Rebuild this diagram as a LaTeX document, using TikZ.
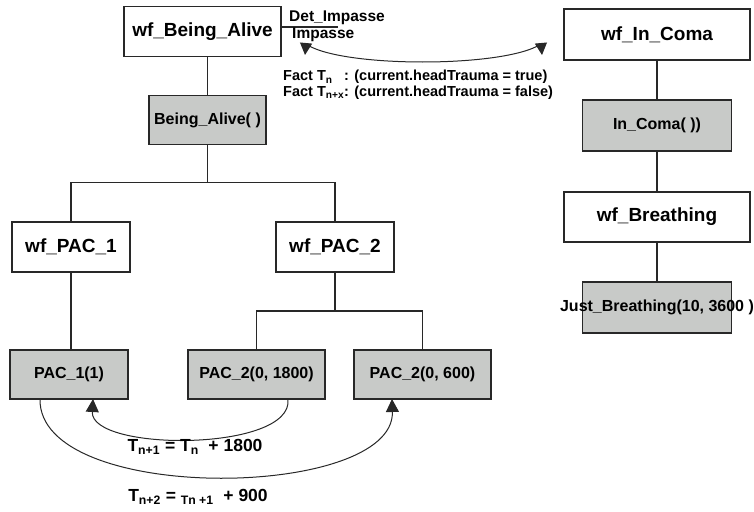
\documentclass[tikz,border=0pt]{standalone}
\usepackage{fontspec}
\setmainfont{Liberation Sans}
\usepackage{xcolor}
\usepackage{tikz}
\usetikzlibrary{arrows.meta,positioning,calc}
\definecolor{callgray}{RGB}{200,202,200}
\definecolor{edgegray}{RGB}{40,40,40}

\begin{document}
\begin{tikzpicture}[x=1pt, y=-1pt,
  wfbox/.style={draw=edgegray, line width=1.2pt, fill=white, inner sep=0pt, outer sep=0pt,
               minimum height=50pt, align=center, font=\fontsize{19}{22}\selectfont\bfseries},
  callbox/.style={draw=edgegray, line width=1.2pt, fill=callgray, inner sep=0pt, outer sep=0pt,
               minimum height=49pt, align=center, font=\fontsize{16}{19}\selectfont\bfseries},
  link/.style={draw=edgegray, line width=1.2pt},
  lbl/.style={inner sep=0pt, font=\fontsize{15.5}{18}\selectfont\bfseries},
  eqlbl/.style={inner sep=0pt, font=\fontsize{17.5}{20}\selectfont\bfseries},
  both/.style={edgegray, line width=1pt, {Triangle[length=12pt,width=12pt]}-{Triangle[length=12pt,width=12pt]}},
  arrow/.style={edgegray, line width=1pt, -{Triangle[length=13pt,width=13pt]}}
]
\useasboundingbox (0,0) rectangle (754,511);

% left tree
\node[wfbox, minimum width=157pt] (wfalive) at (202.5,31.5) {wf\_Being\_Alive};
\node[callbox, minimum width=117pt] (alive) at (207.5,120) {Being\_Alive( )};
\node[wfbox, minimum width=118pt] (wfpac1) at (71,247) {wf\_PAC\_1};
\node[wfbox, minimum width=118pt] (wfpac2) at (335,247) {wf\_PAC\_2};
\node[callbox, minimum width=118pt] (paca) at (69,374.5) {PAC\_1(1)};
\node[callbox, minimum width=137pt] (pacb) at (256.5,374.5) {PAC\_2(0, 1800)};
\node[callbox, minimum width=137pt] (pacc) at (422.5,374.5) {PAC\_2(0, 600)};

% right column
\node[wfbox, minimum width=186pt, minimum height=51pt] (wfcoma) at (657,34.5) {wf\_In\_Coma};
\node[callbox, minimum width=149pt, minimum height=51pt, below=40pt of wfcoma] (coma) {In\_Coma( ))};
\node[wfbox, minimum width=186pt, below=41pt of coma] (wfbreath) {wf\_Breathing};
\node[callbox, minimum width=149pt, minimum height=51pt, below=40pt of wfbreath] (breath)
  {\makebox[0pt]{Just\_Breathing(10, 3600 )}};

\draw[link] (wfalive.south -| alive.north) -- (alive.north);
\draw[link] (alive.south) -- ++(0,38) -| (wfpac1.north);
\draw[link] (alive.south) -- ++(0,38) -| (wfpac2.north);
\draw[link] (wfpac1.south) -- (wfpac1.south |- paca.north);
\draw[link] (wfpac2.south) -- ++(0,39) -| (pacb.north);
\draw[link] (wfpac2.south) -- ++(0,39) -| (pacc.north);
\draw[link] (wfcoma) -- (coma);
\draw[link] (coma) -- (wfbreath);
\draw[link] (wfbreath) -- (breath);

% impasse transition
\coordinate (impend) at (338,27);
\draw[link] ([yshift=4.5pt]wfalive.east) -- (impend);
\node[lbl, anchor=base west] (detimp) at (289,22) {Det\_Impasse};
\node[lbl, anchor=base west] (imp) at (292,38) {Impasse};
\coordinate (tipL) at (305,55);
\coordinate (tipR) at (542,55);
\draw[both] (tipL) -- ++(1,-11) .. controls (340,68) and (505,68) .. (541,44) -- (tipR);
\node[inner sep=0pt, anchor=base west, font=\fontsize{14.5}{15}\selectfont\bfseries] (facts) at (283,81)
  {\begin{tabular}[t]{@{}l@{}l@{}}
   Fact T\textsubscript{n}\ \ \  & : (current.headTrauma = true)\\
   Fact T\textsubscript{n+x} & : (current.headTrauma = false)
   \end{tabular}};

% timing arcs
\draw[arrow] ([xshift=31.5pt]pacb.south) .. controls (294,452) and (90,452) .. ([xshift=24pt]paca.south);
\node[eqlbl] (eqa) at (195,447) {T\textsubscript{n+1} = T\textsubscript{n} \ + 1800};
\draw[arrow] ([xshift=-29pt]paca.south) .. controls (38,505) and (395,500) .. ([xshift=-30.5pt]pacc.south);
\node[eqlbl] (eqb) at (198,497) {T\textsubscript{n+2} = \textsubscript{Tn +1} \ + 900};
\end{tikzpicture}
\end{document}
